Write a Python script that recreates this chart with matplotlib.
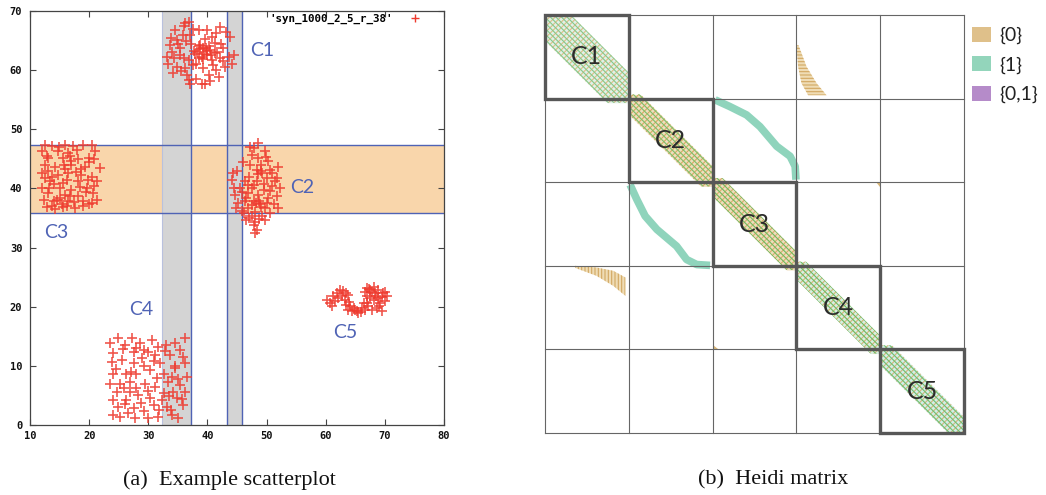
import numpy as np
import matplotlib
matplotlib.use('Agg')
import matplotlib.pyplot as plt
from matplotlib.patches import Rectangle, Patch, Polygon

plt.rcParams['hatch.linewidth'] = 0.8

# ---------------- data: scatterplot ----------------
c1_points = [(36.8,68.2),(36.2,67.9),(37.6,67.0),(34.5,66.8),(38.5,66.8),(39.9,66.8),(42.1,67.3),
             (35.9,65.9),(34.8,65.1),(33.7,64.2),(40.7,65.6),(43.8,65.6),(35.4,63.7),(38.8,64.2),
             (39.3,63.7),(40.5,63.4),(41.6,63.1),(37.9,62.8),(39.9,62.5),(38.5,62.0),(33.1,62.3),
             (34.3,62.0),(36.8,61.7),(42.7,63.7),(43.6,62.3),(44.1,61.1),(42.1,62.0),(41.0,60.8),
             (33.4,61.1),(34.8,60.6),(36.2,60.3),(39.3,60.3),(36.5,59.2),(40.2,59.2),(41.9,58.9),
             (37.1,57.7),(39.0,57.6),(39.6,57.7),(37.6,60.8),(35.4,62.5),(38.2,63.0),(38.8,63.5),
             (39.5,62.8),(40.0,63.2),(40.6,62.6),(39.1,62.2),(38.5,64.0),(40.3,64.1),(39.8,63.8),
             (37.8,63.3),(41.2,62.9),(39.3,61.8),(36.0,67.4),(35.0,64.5),(34.0,63.0),(36.4,65.0),
             (37.0,66.0),(41.3,64.6),(42.6,61.6),(44.5,62.5),(38.0,58.5),(35.6,59.8),(40.8,61.7),
             (43.2,66.4),(33.8,65.5),(37.3,64.5),(42.3,64.5),(36.0,62.0),(43.0,60.5),(38.0,61.0),
             (41.5,60.0),(34.2,59.5),(36.9,58.3),(40.5,58.1),(39.6,65.3),(41.5,66.2)]
c2_points = [(48.6,47.7),(47.8,46.8),(49.7,46.3),(47.5,45.7),(48.6,45.1),(50.3,44.6),(52.0,43.7),
             (47.2,44.0),(48.3,43.2),(49.2,42.6),(50.0,41.8),(51.4,41.2),(44.4,42.6),(44.1,41.5),
             (46.4,41.2),(47.8,40.6),(50.9,40.4),(52.3,40.1),(45.5,40.1),(44.7,38.9),(46.9,39.2),
             (48.6,38.9),(50.3,38.4),(51.7,38.7),(47.8,37.8),(48.9,37.3),(49.7,36.7),(46.9,36.7),
             (52.0,36.7),(44.9,36.7),(46.1,35.9),(47.5,35.3),(49.2,35.3),(50.6,35.9),(48.0,34.4),
             (48.3,33.0),(48.0,32.5),(46.6,34.7),(45.2,37.5),(49.5,39.8),(48.2,37.5),(48.8,37.9),
             (47.6,37.2),(49.1,36.9),(48.5,42.5),(49.0,43.0),(47.5,40.0),(46.8,40.5),(49.9,45.3),
             (47.2,47.0),(51.0,42.6),(45.8,39.4),(50.6,39.6),(47.0,42.0),(48.0,36.0),(46.3,37.8),
             (49.5,40.8),(48.3,41.3),(46.0,44.5),(50.5,43.2),(45.0,43.0),(49.0,44.0),(51.7,41.8),
             (44.5,40.0),(46.5,38.3),(50.0,37.5),(51.2,37.3),(45.8,36.2),(47.0,35.0),(48.8,34.8),
             (49.8,34.6),(47.9,33.8)]
c3_points = [(12.5,47.4),(13.7,47.1),(15.9,47.4),(19.0,47.4),(20.4,47.4),(12.0,46.3),(14.8,46.3),
             (16.5,46.0),(21.0,46.3),(13.1,45.1),(15.6,45.1),(18.2,44.9),(19.9,45.1),(12.5,44.0),
             (14.2,43.7),(17.0,44.0),(19.3,43.7),(21.8,43.5),(12.0,42.6),(14.8,42.3),(16.5,42.6),
             (18.7,42.3),(20.4,42.0),(13.4,41.2),(18.2,41.2),(21.3,41.2),(12.0,40.1),(15.1,40.1),
             (17.0,39.8),(19.6,40.1),(13.1,39.2),(15.9,38.9),(18.2,38.7),(20.7,39.2),(12.3,38.1),
             (14.5,38.1),(16.5,37.8),(19.0,37.8),(21.3,38.1),(13.7,37.0),(16.2,37.0),(17.6,36.7),
             (19.9,37.3),(15.4,37.3),(14.2,36.6),(17.0,44.6),(13.0,43.0),(16.0,43.3),(18.0,46.5),
             (15.0,38.3),(17.5,37.7),(19.5,39.4),(14.0,40.7),(20.0,44.5),(16.2,41.5),(12.5,41.8),
             (14.9,47.0),(17.3,47.1),(20.9,44.9),(12.8,45.5),(16.8,45.4),(15.8,44.0),(18.6,43.3),
             (13.7,42.0),(17.7,42.8),(19.8,41.4),(15.6,41.0),(13.2,40.0),(18.4,40.2),(20.9,40.4),
             (16.7,38.7),(14.0,37.8),(18.9,37.0),(20.4,37.5),(15.5,36.8),(12.8,36.9)]
c4_points = [(24.9,14.7),(27.2,14.7),(23.5,13.8),(26.1,13.5),(28.6,13.8),(30.6,14.4),(31.7,13.2),
             (34.5,13.8),(36.2,14.7),(24.1,12.1),(27.5,12.4),(29.2,12.7),(30.0,12.4),(35.4,12.7),
             (33.7,11.8),(23.8,10.7),(25.5,11.0),(27.5,10.4),(29.2,9.9),(32.0,10.4),(34.5,9.6),
             (36.2,10.4),(24.1,8.7),(26.3,8.7),(28.0,8.7),(30.3,9.3),(32.6,8.7),(34.0,8.2),
             (36.5,8.2),(23.5,7.0),(25.2,7.0),(26.9,7.3),(29.4,7.0),(31.1,6.5),(35.4,6.8),
             (24.7,5.6),(26.9,5.6),(28.3,5.1),(32.6,5.4),(34.2,5.6),(36.2,5.6),(24.1,4.2),
             (26.3,4.2),(30.3,4.5),(32.3,4.2),(34.8,4.5),(24.9,3.1),(27.5,2.8),(30.9,3.4),
             (33.1,3.1),(35.9,3.4),(24.1,1.7),(26.6,2.0),(29.2,2.3),(31.7,1.4),(34.0,1.7),
             (27.8,1.1),(35.1,1.1),(34.5,9.9),(25.8,12.8),(28.9,11.3),(31.2,11.8),(33.0,13.5),
             (35.8,11.5),(24.5,9.5),(27.0,9.0),(31.5,8.0),(33.3,7.2),(35.0,7.7),(25.9,6.3),
             (28.0,6.2),(30.0,5.8),(33.5,4.9),(35.7,4.4),(26.0,3.5),(28.8,3.7),(31.8,2.6),
             (33.9,2.5),(29.9,1.2),(25.2,1.4),(32.8,12.5),(30.9,10.9),(27.9,13.0)]
c5_points = [(60.2,21.2),(60.7,20.6),(61.0,20.1),(61.3,21.8),(61.9,22.3),(62.4,22.9),(63.0,22.6),
             (63.5,22.3),(63.3,21.2),(63.5,20.3),(63.8,19.5),(64.4,19.2),(65.0,19.5),(65.5,18.9),
             (66.1,19.8),(66.4,20.6),(66.9,21.8),(66.9,23.2),(67.5,22.9),(68.1,23.4),(68.3,22.3),
             (68.9,22.9),(69.7,22.3),(70.3,21.8),(70.0,20.9),(69.2,20.6),(68.6,19.8),(67.8,19.5),
             (67.2,20.1),(68.1,21.2),(68.9,21.5),(66.6,19.5),(64.1,20.1),(64.7,19.8),(62.7,21.8),
             (69.5,19.2),(67.5,21.5),(61.5,21.0),(62.0,21.5),(63.8,22.0),(64.0,20.8),(65.3,19.3),
             (66.0,19.1),(67.0,20.6),(67.8,22.5),(68.5,21.8),(69.5,21.6),(69.0,20.2),(70.0,22.5),
             (67.3,23.0),(66.6,22.5)]
clusters = [c1_points, c2_points, c3_points, c4_points, c5_points]

gray_bands = [(32.4, 37.3), (43.3, 45.8)]
blue_vlines = [37.3, 43.3, 45.8]
orange_band = (35.8, 47.3)
blue_hlines = [35.8, 47.3]
cluster_names = ['C1', 'C2', 'C3', 'C4', 'C5']
scatter_label_pos = [(49.2, 63.4), (56.0, 40.1), (14.4, 32.5), (28.8, 19.6), (63.3, 15.7)]
xticks = [10, 20, 30, 40, 50, 60, 70, 80]
yticks = [0, 10, 20, 30, 40, 50, 60, 70]
series_name = "'syn_1000_2_5_r_38'"

# ---------------- data: Heidi matrix ----------------
n_clusters = 5
matrix_size = 1000
band_halfwidth = [62, 38, 34, 33, 38]
band_colors = [('#e2f1e8', '#dfbc84', '#86c98a'),
               ('#f0dfbf', '#d6a960', '#7cc06a'),
               ('#efdebd', '#d8ad6c', '#6fbb5e'),
               ('#d9efe1', '#d6b377', '#6cbb62'),
               ('#d3efe7', '#d5b27a', '#70bf70')]
curve_x = [406, 441, 481, 513, 553, 585, 597, 599]
curve_y = [203, 219, 239, 267, 314, 338, 362, 394]
wedge_left = [(600, 72), (604, 123), (612, 163), (628, 192)]
wedge_right = [(605, 72), (624, 123), (648, 163), (672, 192)]
tan_bit = [(790, 400), (800, 400), (800, 412)]
legend_labels = ['{0}', '{1}', '{0,1}']
legend_colors = ['#dfc08a', '#93d5bb', '#b58bc9']

RED = '#ee3a2e'
BLUE = '#4f63b5'

fig = plt.figure(figsize=(10.46, 4.95), dpi=100)

# ================= left: scatterplot =================
ax = fig.add_axes([30/1046, 1-425/495, 414/1046, 414/495])
ax.set_xlim(10, 80)
ax.set_ylim(0, 70)
ax.axhspan(orange_band[0], orange_band[1], color='#f9d6ab', lw=0, zorder=0)
for a, b in gray_bands:
    ax.axvspan(a, b, color='#d4d4d4', lw=0, zorder=1)
ax.axvline(gray_bands[0][0], color='#b9c1de', lw=0.8, zorder=2)
for v in blue_vlines:
    ax.axvline(v, color=BLUE, lw=1.0, zorder=2)
for h in blue_hlines:
    ax.axhline(h, color=BLUE, lw=1.0, zorder=2)

for pts in clusters:
    arr = np.array(pts)
    ax.plot(arr[:, 0], arr[:, 1], ls='none', marker='+', ms=6.5, mew=1.2,
            color=RED, alpha=0.85, zorder=3)

for name, (lx, ly) in zip(cluster_names, scatter_label_pos):
    ax.text(lx, ly, name, color=BLUE, fontsize=14, family='Lato',
            ha='center', va='center', zorder=4)

ax.set_xticks(xticks, labels=[str(t) for t in xticks])
ax.set_yticks(yticks, labels=[str(t) for t in yticks])
for lbl in ax.get_xticklabels() + ax.get_yticklabels():
    lbl.set_fontfamily('DejaVu Sans Mono')
    lbl.set_fontweight('bold')
    lbl.set_fontsize(7.5)
ax.tick_params(direction='in', length=4, width=0.8, top=True, right=True,
               color='#444444', labelcolor='#111111')
ax.tick_params(axis='x', pad=4)
ax.tick_params(axis='y', pad=5.5)
for s in ax.spines.values():
    s.set_color('#444444')
    s.set_linewidth(0.9)
    s.set_zorder(5)

ax.plot([], [], ls='none', marker='+', ms=5.5, mew=1.0, color=RED, label=series_name)
ax.legend(loc='upper right', bbox_to_anchor=(0.9565, 0.993), markerfirst=False,
          frameon=False, prop=dict(family='DejaVu Sans Mono', weight='bold', size=7.8),
          handlelength=2, handletextpad=1.1, borderpad=0, borderaxespad=0)

# ================= right: Heidi matrix =================
ax2 = fig.add_axes([545/1046, 1-433/495, 419/1046, 418/495])
ax2.set_xlim(0, matrix_size)
ax2.set_ylim(matrix_size, 0)
ax2.axis('off')
bounds = np.linspace(0, matrix_size, n_clusters + 1)
margin = 10

for k in range(n_clusters):
    lo, hi = bounds[k], bounds[k + 1]
    xs = np.linspace(lo, hi, 60)
    hw = band_halfwidth[k]
    y1 = np.clip(xs - hw, lo - margin, hi + margin)
    y2 = np.clip(xs + hw, lo - margin, hi + margin)
    base, h1, h2 = band_colors[k]
    ax2.fill_between(xs, y1, y2, color=base, lw=0, zorder=1)
    ax2.fill_between(xs, y1, y2, facecolor='none', edgecolor=h1, hatch='//////', lw=0, zorder=2)
    ax2.fill_between(xs, y1, y2, facecolor='none', edgecolor=h2, hatch='\\\\\\\\\\\\', lw=0, zorder=2)

ax2.plot(curve_x, curve_y, color='#8fd4bc', lw=5.5, solid_capstyle='butt', zorder=2)
ax2.plot(curve_y, curve_x, color='#8fd4bc', lw=5.5, solid_capstyle='butt', zorder=2)

wedge = wedge_left + wedge_right[::-1]
ax2.add_patch(Polygon(wedge, closed=True, facecolor='#efdcb5', edgecolor='#d2a862',
                      hatch='-----', lw=0, zorder=2))
ax2.add_patch(Polygon([(y, x) for x, y in wedge], closed=True, facecolor='#efdcb5',
                      edgecolor='#d2a862', hatch='|||||', lw=0, zorder=2))
ax2.add_patch(Polygon(tan_bit, closed=True, facecolor='#d9b77a', lw=0, zorder=2))
ax2.add_patch(Polygon([(y, x) for x, y in tan_bit], closed=True, facecolor='#d9b77a', lw=0, zorder=2))

for b in bounds:
    ax2.plot([b, b], [0, matrix_size], color='#666666', lw=0.8, zorder=3, clip_on=False)
    ax2.plot([0, matrix_size], [b, b], color='#666666', lw=0.8, zorder=3, clip_on=False)
for k in range(n_clusters):
    lo, hi = bounds[k], bounds[k + 1]
    ax2.add_patch(Rectangle((lo, lo), hi - lo, hi - lo, facecolor='none',
                            edgecolor='#575757', lw=2.4, zorder=4, clip_on=False))
    ax2.text((lo + hi) / 2, (lo + hi) / 2, cluster_names[k], color='#2b2b2b',
             fontsize=18, family='Lato', ha='center', va='center', zorder=5)

handles = [Patch(facecolor=c, edgecolor='none') for c in legend_colors]
ax2.legend(handles, legend_labels, loc='upper left', bbox_to_anchor=(1.019, 0.972),
           frameon=False, prop=dict(family='Lato', size=14), handlelength=1.0,
           handleheight=0.8, handletextpad=0.4, labelspacing=0.62,
           borderpad=0, borderaxespad=0, labelcolor='#222222')

# ================= captions =================
fig.text(229/1046, 1-480/495, '(a)  Example scatterplot', ha='center', va='center',
         family='Liberation Serif', fontsize=16, color='#111111')
fig.text(773/1046, 1-480/495, '(b)  Heidi matrix', ha='center', va='center',
         family='Liberation Serif', fontsize=16, color='#111111')

fig.savefig('out.png', dpi=100)
